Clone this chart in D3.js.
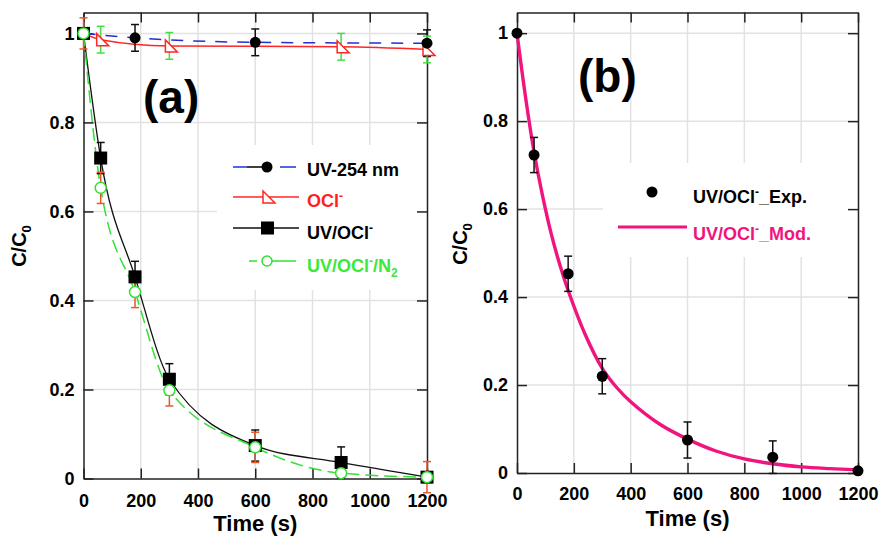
<!DOCTYPE html>
<html>
<head>
<meta charset="utf-8">
<script src="https://cdn.jsdelivr.net/npm/d3@7/dist/d3.min.js"></script>
<style>
  body { margin: 0; background: #fff; }
  text { font-family: "Liberation Sans", Arial, sans-serif; font-weight: bold; }
</style>
</head>
<body>
<svg id="chart" width="879" height="538"></svg>
<script>
// ---- data ----
// panel (a)
const uvT = [0, 180, 600, 1200];
const uvOnly = [1, 0.99, 0.98, 0.978];
const uvOnlyErr = [0, 0.03, 0.03, 0.03];

const oclT = [0, 60, 300, 900, 1200];
const oclOnly = [1, 0.986, 0.972, 0.97, 0.964];
const oclErr = [0, 0.03, 0.03, 0.03, 0.03];

const timeA = [0, 60, 180, 300, 600, 900, 1200];
const uvOcl = [1, 0.72, 0.453, 0.223, 0.074, 0.036, 0.003];
const uvOclErr = [0, 0.035, 0.035, 0.035, 0.035, 0.035, 0];
const uvOclN2 = [1, 0.653, 0.419, 0.198, 0.07, 0.012, 0.003];
const uvOclN2Err = [0.035, 0.035, 0.035, 0.035, 0.034, 0, 0.035];

// panel (b)
const timeB = [0, 60, 180, 300, 600, 900, 1200];
const expB = [1, 0.723, 0.453, 0.22, 0.075, 0.036, 0.005];
const expErr = [0, 0.04, 0.04, 0.04, 0.041, 0.037, 0];
const modT = [0, 30, 60, 90, 120, 150, 180, 240, 300, 350, 400, 500, 600, 700, 800, 900, 1000, 1100, 1200];
const modB = [1, 0.855, 0.73, 0.63, 0.545, 0.475, 0.415, 0.315, 0.238, 0.195, 0.162, 0.112, 0.077, 0.05, 0.032, 0.021, 0.014, 0.01, 0.007];

const xTicks = [0, 200, 400, 600, 800, 1000, 1200];
const yTicks = [0, 0.2, 0.4, 0.6, 0.8, 1];

const svg = d3.select("#chart");

function zip(ts, vs, es) {
  return ts.map(function(t, i) { return { t: t, v: vs[i], e: es ? es[i] : 0 }; });
}

// label with raised minus / subscripts; shifts in px so they undo cleanly
function richText(sel, parts, small) {
  parts.forEach(function(p) {
    var ts = sel.append("tspan").text(p[0]);
    if (p[1] === "sup") ts.attr("font-size", small).attr("dy", -7);
    else if (p[1] === "sub") ts.attr("font-size", small).attr("dy", 5);
    else if (p[1] === "back-sup") ts.attr("dy", 7);
  });
}

function panel(box, xPad) {
  var x = d3.scaleLinear().domain([0, 1200]).range([box.left, box.right]);
  var y = d3.scaleLinear().domain([0, 1.047]).range([box.bottom, box.top]);
  var g = svg.append("g");

  // grid
  g.append("g").selectAll("line").data(xTicks.slice(1, -1)).enter().append("line")
    .attr("x1", d => x(d)).attr("x2", d => x(d))
    .attr("y1", box.top).attr("y2", box.bottom)
    .attr("stroke", "#e2e2e2").attr("stroke-width", 1.5);
  g.append("g").selectAll("line").data(yTicks.slice(1)).enter().append("line")
    .attr("y1", d => y(d)).attr("y2", d => y(d))
    .attr("x1", box.left).attr("x2", box.right)
    .attr("stroke", "#e2e2e2").attr("stroke-width", 1.5);

  // legend background hides the grid
  g.append("rect")
    .attr("x", box.legend[0]).attr("y", box.legend[1])
    .attr("width", box.right - box.legend[0]).attr("height", box.legend[2])
    .attr("fill", "#fff");

  var fmt = d3.format("~g");
  var axes = [
    d3.axisBottom(x).tickValues(xTicks).tickFormat(fmt).tickSizeInner(-10).tickSizeOuter(0).tickPadding(xPad),
    d3.axisTop(x).tickValues(xTicks).tickFormat("").tickSizeInner(-10).tickSizeOuter(0),
    d3.axisLeft(y).tickValues(yTicks).tickFormat(fmt).tickSizeInner(-10).tickSizeOuter(0).tickPadding(9),
    d3.axisRight(y).tickValues(yTicks).tickFormat("").tickSizeInner(-10).tickSizeOuter(0)
  ];
  var pos = ["translate(0," + box.bottom + ")", "translate(0," + box.top + ")",
             "translate(" + box.left + ",0)", "translate(" + box.right + ",0)"];
  axes.forEach(function(a, i) {
    var ag = g.append("g").attr("transform", pos[i]).call(a)
      .attr("font-size", 18).attr("font-family", null);
    ag.select(".domain").attr("stroke", "#222").attr("stroke-width", 1.5);
    ag.selectAll(".tick line").attr("stroke", "#222").attr("stroke-width", 1.5);
    ag.selectAll(".tick text").attr("fill", "#000");
  });

  // axis titles
  g.append("text")
    .attr("x", (box.left + box.right) / 2).attr("y", box.xTitle)
    .attr("text-anchor", "middle").attr("font-size", 22)
    .text("Time (s)");
  var yt = g.append("text")
    .attr("transform", "translate(" + box.yTitle[0] + "," + box.yTitle[1] + ") rotate(-90)")
    .attr("text-anchor", "middle").attr("font-size", 20);
  richText(yt, [["C/C"], ["0", "sub"]], 13);

  g.append("text")
    .attr("x", box.tag[0]).attr("y", box.tag[1])
    .attr("font-size", 46).text(box.tagText);

  return { g: g, x: x, y: y };
}

function errorBars(p, data, color) {
  var eb = p.g.append("g").attr("stroke", color).attr("stroke-width", 1.5);
  data.filter(d => d.e > 0).forEach(function(d) {
    var cx = p.x(d.t), y1 = p.y(d.v - d.e), y2 = p.y(d.v + d.e);
    eb.append("line").attr("x1", cx).attr("x2", cx).attr("y1", y1).attr("y2", y2);
    eb.append("line").attr("x1", cx - 4).attr("x2", cx + 4).attr("y1", y1).attr("y2", y1);
    eb.append("line").attr("x1", cx - 4).attr("x2", cx + 4).attr("y1", y2).attr("y2", y2);
  });
}

var triangle = "M-4,-6L-4,6L8,6Z";

// ---------------- panel (a) ----------------
var a = panel({ left: 83.5, right: 427, top: 12.5, bottom: 478.5, xTitle: 531,
                yTitle: [26, 246], tag: [143, 113], tagText: "(a)",
                legend: [217, 145, 145] }, 16);

var dUv = zip(uvT, uvOnly, uvOnlyErr);
var dOcl = zip(oclT, oclOnly, oclErr);
var dUvOcl = zip(timeA, uvOcl, uvOclErr);
var dN2 = zip(timeA, uvOclN2, uvOclN2Err);

var lineA = d3.line().x(d => a.x(d.t)).y(d => a.y(d.v)).curve(d3.curveMonotoneX);

a.g.append("path").datum(dUv).attr("d", lineA).attr("fill", "none")
  .attr("stroke", "#2430d0").attr("stroke-width", 1.5).attr("stroke-dasharray", "12,10");
a.g.append("path").datum(dOcl).attr("d", lineA).attr("fill", "none")
  .attr("stroke", "#ff2626").attr("stroke-width", 1.5);
a.g.append("path").datum(dUvOcl).attr("d", lineA).attr("fill", "none")
  .attr("stroke", "#111").attr("stroke-width", 1.3);
a.g.append("path").datum(dN2).attr("d", lineA).attr("fill", "none")
  .attr("stroke", "#35e035").attr("stroke-width", 1.5).attr("stroke-dasharray", "13,6");

errorBars(a, dUv, "#111");
errorBars(a, dOcl, "#44dd44");
errorBars(a, dUvOcl, "#111");
errorBars(a, dN2, "#e8582c");

a.g.append("g").selectAll("path").data(dOcl.slice(1)).enter().append("path")
  .attr("d", triangle).attr("transform", d => "translate(" + a.x(d.t) + "," + a.y(d.v) + ")")
  .attr("fill", "#fff").attr("stroke", "#ff2626").attr("stroke-width", 1.5);
a.g.append("g").selectAll("circle").data(dUv).enter().append("circle")
  .attr("cx", d => a.x(d.t)).attr("cy", d => a.y(d.v)).attr("r", 5.5).attr("fill", "#000");
a.g.append("g").selectAll("rect").data(dUvOcl).enter().append("rect")
  .attr("x", d => a.x(d.t) - 6.5).attr("y", d => a.y(d.v) - 6.5)
  .attr("width", 13).attr("height", 13).attr("fill", "#000");
a.g.append("g").selectAll("circle").data(dN2).enter().append("circle")
  .attr("cx", d => a.x(d.t)).attr("cy", d => a.y(d.v)).attr("r", 5.5)
  .attr("fill", "#fff").attr("stroke", "#35e035").attr("stroke-width", 1.5);

// legend (a)
var legA = a.g.append("g");
var rowsA = [
  { y: 176, color: "#000", parts: [["UV-254 nm"]] },
  { y: 207, color: "#ff1f1f", parts: [["OCl"], ["-", "sup"]] },
  { y: 239, color: "#000", parts: [["UV/OCl"], ["-", "sup"]] },
  { y: 272, color: "#3be83b", parts: [["UV/OCl"], ["-", "sup"], ["/N", "back-sup"], ["2", "sub"]] }
];
rowsA.forEach(function(r) {
  richText(legA.append("text").attr("x", 307).attr("y", r.y).attr("font-size", 18).attr("fill", r.color), r.parts, 12);
});
var ly = rowsA.map(r => r.y - 8);
legA.append("line").attr("x1", 233).attr("x2", 247).attr("y1", ly[0] - 1).attr("y2", ly[0] - 1)
  .attr("stroke", "#2430d0").attr("stroke-width", 1.5);
legA.append("line").attr("x1", 280).attr("x2", 296).attr("y1", ly[0] - 1).attr("y2", ly[0] - 1)
  .attr("stroke", "#2430d0").attr("stroke-width", 1.5);
legA.append("line").attr("x1", 247).attr("x2", 267).attr("y1", ly[0] - 1).attr("y2", ly[0] - 1)
  .attr("stroke", "#000").attr("stroke-width", 1.5);
legA.append("circle").attr("cx", 267).attr("cy", ly[0] - 1).attr("r", 5.5).attr("fill", "#000");
legA.append("line").attr("x1", 233).attr("x2", 299).attr("y1", ly[1] - 2).attr("y2", ly[1] - 2)
  .attr("stroke", "#ff2626").attr("stroke-width", 1.5);
legA.append("path").attr("d", triangle).attr("transform", "translate(267," + (ly[1] - 2) + ")")
  .attr("fill", "#fff").attr("stroke", "#ff2626").attr("stroke-width", 1.5);
legA.append("line").attr("x1", 233).attr("x2", 299).attr("y1", ly[2] - 3).attr("y2", ly[2] - 3)
  .attr("stroke", "#111").attr("stroke-width", 1.5);
legA.append("rect").attr("x", 261).attr("y", ly[2] - 9.5).attr("width", 13).attr("height", 13).attr("fill", "#000");
legA.append("line").attr("x1", 249).attr("x2", 296).attr("y1", ly[3] - 3).attr("y2", ly[3] - 3)
  .attr("stroke", "#35e035").attr("stroke-width", 1.5).attr("stroke-dasharray", "8,5,40");
legA.append("circle").attr("cx", 267).attr("cy", ly[3] - 3).attr("r", 5)
  .attr("fill", "#fff").attr("stroke", "#35e035").attr("stroke-width", 1.5);

// ---------------- panel (b) ----------------
var b = panel({ left: 517, right: 858, top: 12.5, bottom: 473, xTitle: 526,
                yTitle: [467, 244], tag: [578, 92], tagText: "(b)",
                legend: [603, 163, 94] }, 14);

var dExp = zip(timeB, expB, expErr);
var dMod = zip(modT, modB);
var lineB = d3.line().x(d => b.x(d.t)).y(d => b.y(d.v)).curve(d3.curveCatmullRom.alpha(0.5));

b.g.append("path").datum(dMod).attr("d", lineB).attr("fill", "none")
  .attr("stroke", "#f0147f").attr("stroke-width", 3.4);
errorBars(b, dExp, "#111");
b.g.append("g").selectAll("circle").data(dExp).enter().append("circle")
  .attr("cx", d => b.x(d.t)).attr("cy", d => b.y(d.v)).attr("r", 5.5).attr("fill", "#000");

var legB = b.g.append("g");
legB.append("circle").attr("cx", 652).attr("cy", 192).attr("r", 5.5).attr("fill", "#000");
richText(legB.append("text").attr("x", 693).attr("y", 203).attr("font-size", 18).attr("fill", "#000"),
  [["UV/OCl"], ["-", "sup"], ["_Exp.", "back-sup"]], 12);
legB.append("line").attr("x1", 618).attr("x2", 687).attr("y1", 227).attr("y2", 227)
  .attr("stroke", "#f0147f").attr("stroke-width", 3);
richText(legB.append("text").attr("x", 693).attr("y", 240).attr("font-size", 18).attr("fill", "#f0147f"),
  [["UV/OCl"], ["-", "sup"], ["_Mod.", "back-sup"]], 12);
</script>
</body>
</html>
